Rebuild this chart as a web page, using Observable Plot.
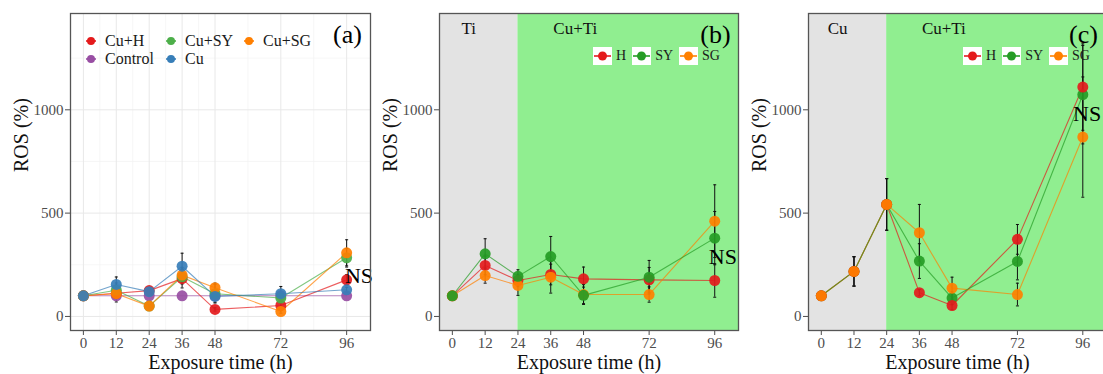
<!DOCTYPE html>
<html>
<head>
<meta charset="utf-8">
<script src="https://cdn.jsdelivr.net/npm/d3@7"></script>
<script src="https://cdn.jsdelivr.net/npm/@observablehq/plot@0.6"></script>
<style>
html, body { margin: 0; padding: 0; background: #fff; overflow: hidden; width: 1103px; height: 374px; }
#root { position: relative; width: 1103px; height: 374px; font-family: "Liberation Serif", "Times New Roman", serif; overflow: hidden; }
.panel { position: absolute; top: 0; width: 370px; height: 374px; }
.panel svg { display: block; max-width: none; }
.legA { position: absolute; left: 85px; top: 32px; display: grid; grid-template-columns: 80px 78px auto; row-gap: 1px; font-family: "Liberation Serif", "Times New Roman", serif; font-size: 16px; color: #1a1a1a; }
.legA .it { display: flex; align-items: center; height: 17px; white-space: nowrap; font-family: "Liberation Serif", serif; }
.legA svg { margin-right: 8px; flex: none; }
.legB { position: absolute; top: 47px; display: flex; align-items: center; font-family: "Liberation Serif", "Times New Roman", serif; font-size: 14px; color: #1a1a1a; }
.legB .it { display: flex; align-items: center; margin-right: 6px; white-space: nowrap; }
.legB svg { background: #fff; margin-right: 4px; flex: none; display: block; }
</style>
</head>
<body>
<div id="root"></div>
<script>
// ---------- data ----------
const times = [0, 12, 24, 36, 48, 72, 96];
const xTicks = [0, 12, 24, 36, 48, 72, 96];
const xMinor = [6, 18, 30, 42, 60, 84];
const yTicks = [0, 500, 1000];
const yMinor = [250, 750, 1250];

// Panel (a)
const seriesA = ["Cu+H", "Cu+SY", "Cu+SG", "Control", "Cu"];
const aCuH     = [100, 112, 125, 183, 34, 53, 177];
const aCuH_sd  = [0, 25, 15, 45, 8, 12, 25];
const aCuSY    = [100, 127, 50, 192, 110, 89, 284];
const aCuSY_sd = [0, 35, 8, 35, 45, 20, 45];
const aCuSG    = [100, 110, 50, 200, 139, 24, 308];
const aCuSG_sd = [0, 40, 8, 35, 22, 8, 63];
const aControl    = [100, 100, 100, 100, 100, 100, 100];
const aControl_sd = [0, 0, 0, 0, 0, 0, 0];
const aCu     = [100, 155, 120, 243, 97, 110, 129];
const aCu_sd  = [0, 36, 12, 63, 28, 35, 12];

// Panel (b)
const seriesBC = ["H", "SY", "SG"];
const bH     = [100, 247, 174, 203, 182, 177, 174];
const bH_sd  = [0, 45, 30, 50, 57, 60, 81];
const bSY    = [100, 303, 194, 290, 102, 190, 379];
const bSY_sd = [0, 73, 32, 97, 40, 81, 129];
const bSG    = [100, 198, 150, 190, 106, 106, 461];
const bSG_sd = [0, 37, 48, 77, 48, 37, 176];

// Panel (c)
const cH     = [100, 218, 542, 115, 53, 373, 1110];
const cH_sd  = [0, 71, 125, 15, 20, 72, 209];
const cSY    = [100, 218, 542, 268, 89, 266, 1073];
const cSY_sd = [0, 71, 125, 84, 30, 89, 238];
const cSG    = [100, 218, 542, 405, 137, 106, 868];
const cSG_sd = [0, 71, 125, 137, 53, 55, 291];

// phases and annotations
const phasesB = [{label: "Ti", end: 24}, {label: "Cu+Ti", start: 24}];
const phasesC = [{label: "Cu", end: 24}, {label: "Cu+Ti", start: 24}];
const phaseLabelsB = [{label: "Ti", x: 6}, {label: "Cu+Ti", x: 45}];
const phaseLabelsC = [{label: "Cu", x: 6}, {label: "Cu+Ti", x: 45}];
const nsA = [{label: "NS", x: 100.5, y: 198}];
const nsB = [{label: "NS", x: 99, y: 286}];
const nsC = [{label: "NS", x: 97.6, y: 979}];

// ---------- styling ----------
const X_DOMAIN = [-4.7, 104.7];
const Y_DOMAIN = [-68, 1466];
const colorsA = {"Cu+H": "#E41A1C", "Cu+SY": "#4DAF4A", "Cu+SG": "#FF7F00", "Control": "#984EA3", "Cu": "#377EB8"};
const colorsBC = {"H": "#E41A1C", "SY": "#259C25", "SG": "#FF8000"};
const FONT = "Liberation Serif, Times New Roman, serif";

function rows(name, vals, sds) {
  return times.map((t, i) => ({series: name, t, v: vals[i], sd: sds[i]}));
}

const rowsA = {
  "Cu+H": rows("Cu+H", aCuH, aCuH_sd),
  "Cu+SY": rows("Cu+SY", aCuSY, aCuSY_sd),
  "Cu+SG": rows("Cu+SG", aCuSG, aCuSG_sd),
  "Control": rows("Control", aControl, aControl_sd),
  "Cu": rows("Cu", aCu, aCu_sd)
};
const rowsB = {"H": rows("H", bH, bH_sd), "SY": rows("SY", bSY, bSY_sd), "SG": rows("SG", bSG, bSG_sd)};
const rowsC = {"H": rows("H", cH, cH_sd), "SY": rows("SY", cSY, cSY_sd), "SG": rows("SG", cSG, cSG_sd)};

function panel(opts) {
  const {data, names, colors, lineOrder, dotOrder, marginLeft, phases, phaseLabels, ns, tag} = opts;
  const lineRows = lineOrder.flatMap(n => data[n]);
  const dotRows = dotOrder.flatMap(n => data[n]);
  const errRows = dotRows.filter(d => d.sd > 0);
  const cap = 0.55;
  const marks = [];
  if (phases) {
    marks.push(Plot.rect(phases, {
      x1: d => d.start ?? X_DOMAIN[0], x2: d => d.end ?? X_DOMAIN[1],
      fill: (d, i) => i === 0 ? "#e3e3e3" : "#90EE90"
    }));
    marks.push(Plot.text(phaseLabels, {x: "x", text: "label", frameAnchor: "top", dy: 15, fontSize: 17, lineAnchor: "middle", fill: "#111"}));
  } else {
    marks.push(Plot.ruleX(xMinor, {stroke: "#f2f2f2", strokeWidth: 0.7}));
    marks.push(Plot.ruleY(yMinor, {stroke: "#f2f2f2", strokeWidth: 0.7}));
    marks.push(Plot.ruleX(xTicks, {stroke: "#e8e8e8", strokeWidth: 1}));
    marks.push(Plot.ruleY(yTicks, {stroke: "#e8e8e8", strokeWidth: 1}));
  }
  marks.push(
    Plot.line(lineRows, {x: "t", y: "v", z: "series", stroke: "series", strokeWidth: 1.1, strokeOpacity: 0.7}),
    Plot.ruleX(errRows, {x: "t", y1: d => d.v - d.sd, y2: d => d.v + d.sd, stroke: "#111", strokeWidth: 1}),
    Plot.link(errRows, {x1: d => d.t - cap, x2: d => d.t + cap, y1: d => d.v + d.sd, y2: d => d.v + d.sd, stroke: "#111", strokeWidth: 1}),
    Plot.link(errRows, {x1: d => d.t - cap, x2: d => d.t + cap, y1: d => d.v - d.sd, y2: d => d.v - d.sd, stroke: "#111", strokeWidth: 1}),
    Plot.dot(dotRows, {x: "t", y: "v", fill: "series", r: 5.5, fillOpacity: 0.92, stroke: "none"}),
    Plot.text(ns, {x: "x", y: "y", text: "label", fontSize: 22, lineAnchor: "middle", fill: "#000"}),
    Plot.text([tag], {text: d => d, frameAnchor: "top-right", dx: -23, dy: 21, fontSize: 26, lineAnchor: "middle", textAnchor: "middle", fill: "#000"}),
    Plot.axisX(xTicks, {tickSize: 5, tickPadding: 2, fontSize: 15, color: "#4d4d4d", label: null, tickFormat: d3.format("d")}),
    Plot.axisY(yTicks, {tickSize: 5, tickPadding: 2, fontSize: 15, color: "#4d4d4d", label: null, tickFormat: d3.format("d")}),
    Plot.text(["Exposure time (h)"], {text: d => d, frameAnchor: "bottom", dy: 32, fontSize: 20, lineAnchor: "middle", fill: "#111"}),
    Plot.text(["ROS (%)"], {text: d => d, frameAnchor: "left", dx: -49, rotate: -90, fontSize: 20, lineAnchor: "middle", fill: "#111"}),
    Plot.frame({stroke: "#555", strokeWidth: 1.3})
  );
  return Plot.plot({
    width: 370, height: 374,
    marginLeft, marginRight: 0, marginTop: 13, marginBottom: 44,
    x: {domain: X_DOMAIN},
    y: {domain: Y_DOMAIN},
    color: {domain: names, range: names.map(n => colors[n])},
    style: {fontFamily: FONT, background: "transparent", overflow: "visible"},
    marks
  });
}

const root = document.getElementById("root");
function place(node, left) {
  const div = document.createElement("div");
  div.className = "panel";
  div.style.left = left + "px";
  div.appendChild(node);
  root.appendChild(div);
}

place(panel({data: rowsA, names: seriesA, colors: colorsA,
  lineOrder: ["Control", "Cu+H", "Cu+SY", "Cu+SG", "Cu"],
  dotOrder: ["Control", "Cu+H", "Cu+SY", "Cu+SG", "Cu"],
  marginLeft: 70, ns: nsA, tag: "(a)"}), 0);
place(panel({data: rowsB, names: seriesBC, colors: colorsBC,
  lineOrder: ["H", "SG", "SY"], dotOrder: ["H", "SG", "SY"],
  marginLeft: 71, phases: phasesB, phaseLabels: phaseLabelsB, ns: nsB, tag: "(b)"}), 368);
place(panel({data: rowsC, names: seriesBC, colors: colorsBC,
  lineOrder: ["H", "SG", "SY"], dotOrder: ["SY", "H", "SG"],
  marginLeft: 72, phases: phasesC, phaseLabels: phaseLabelsC, ns: nsC, tag: "(c)"}), 736);

// ---------- legends ----------
function swatch(color, w, h, r) {
  const ns = "http://www.w3.org/2000/svg";
  const s = document.createElementNS(ns, "svg");
  s.setAttribute("width", w); s.setAttribute("height", h);
  const l = document.createElementNS(ns, "line");
  l.setAttribute("x1", 1); l.setAttribute("x2", w - 1);
  l.setAttribute("y1", h / 2); l.setAttribute("y2", h / 2);
  l.setAttribute("stroke", color); l.setAttribute("stroke-width", 1.6);
  const c = document.createElementNS(ns, "circle");
  c.setAttribute("cx", w / 2); c.setAttribute("cy", h / 2); c.setAttribute("r", r);
  c.setAttribute("fill", color);
  s.appendChild(l); s.appendChild(c);
  return s;
}
function label(text) {
  const sp = document.createElement("span");
  sp.style.fontFamily = "'Liberation Serif', 'Times New Roman', serif";
  sp.textContent = text;
  return sp;
}
const legA = document.createElement("div");
legA.className = "legA";
seriesA.forEach(n => {
  const it = document.createElement("div");
  it.className = "it";
  it.appendChild(swatch(colorsA[n], 12, 12, 4));
  it.appendChild(label(n));
  legA.appendChild(it);
});
root.appendChild(legA);

[593, 963].forEach(left => {
  const lg = document.createElement("div");
  lg.className = "legB";
  lg.style.left = left + "px";
  seriesBC.forEach(n => {
    const it = document.createElement("div");
    it.className = "it";
    it.appendChild(swatch(colorsBC[n], 19, 18, 4.5));
    it.appendChild(label(n));
    lg.appendChild(it);
  });
  root.appendChild(lg);
});
</script>
</body>
</html>
